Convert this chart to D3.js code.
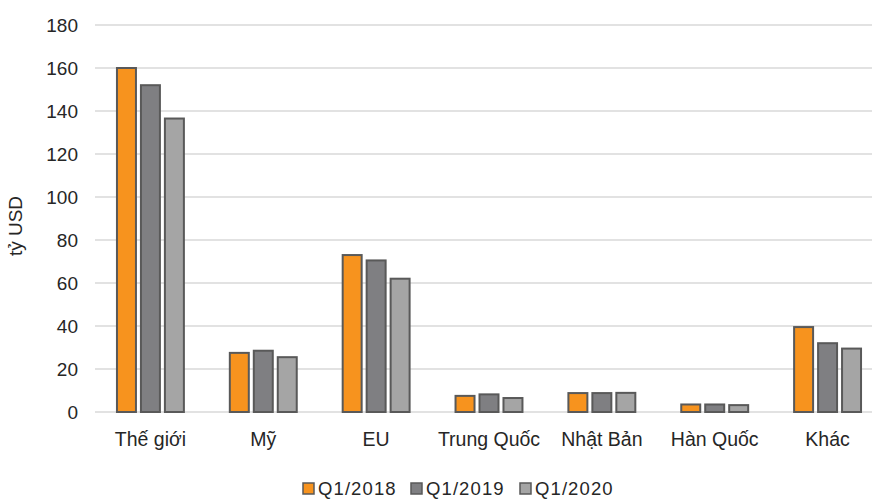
<!DOCTYPE html>
<html>
<head>
<meta charset="utf-8">
<script src="https://cdn.jsdelivr.net/npm/d3@7"></script>
<style>
  html, body { margin: 0; padding: 0; background: #fff; }
  svg { display: block; font-family: "Liberation Sans", Arial, sans-serif; }
</style>
</head>
<body>
<svg id="chart" width="872" height="499"></svg>
<script>
// Export value by market (billion USD), first quarter of each year
const categories = ["Thế giới", "Mỹ", "EU", "Trung Quốc", "Nhật Bản", "Hàn Quốc", "Khác"];
const seriesNames = ["Q1/2018", "Q1/2019", "Q1/2020"];
const q2018 = [160, 27.5, 73, 7.5, 8.8, 3.5, 39.5];
const q2019 = [152, 28.5, 70.5, 8.2, 8.8, 3.5, 32];
const q2020 = [136.5, 25.5, 62, 6.5, 8.9, 3.2, 29.5];
const yTicks = [0, 20, 40, 60, 80, 100, 120, 140, 160, 180];
const colors = ["#F7931E", "#7F7F82", "#A5A5A5"];

const seriesValues = [q2018, q2019, q2020];
const svg = d3.select("#chart");

const plot = { left: 94, right: 884, top: 25, bottom: 412 };

const x = d3.scaleBand()
  .domain(categories)
  .range([plot.left, plot.right])
  .paddingInner(0)
  .paddingOuter(0);

const xInner = d3.scaleBand()
  .domain(seriesNames)
  .range([0, x.bandwidth()])
  .paddingInner(0.208)
  .paddingOuter(0.958);

const y = d3.scaleLinear().domain([0, 180]).range([plot.bottom, plot.top]);

// Horizontal gridlines
svg.append("g")
  .selectAll("line")
  .data(yTicks)
  .join("line")
  .attr("x1", plot.left + 1)
  .attr("x2", 872)
  .attr("y1", d => y(d))
  .attr("y2", d => y(d))
  .attr("stroke", "#D9D9D9")
  .attr("stroke-width", 1.5);

// Y axis labels
const yAxis = svg.append("g")
  .attr("transform", `translate(78,0)`)
  .call(d3.axisLeft(y).tickValues(yTicks).tickSize(0).tickPadding(0));
yAxis.select(".domain").remove();
yAxis.selectAll("text")
  .attr("font-size", 19)
  .attr("fill", "#262626")
  .attr("font-family", "Liberation Sans, Arial, sans-serif");

// Y axis title
svg.append("text")
  .attr("transform", `translate(22,226) rotate(-90)`)
  .attr("text-anchor", "middle")
  .attr("font-size", 19)
  .attr("fill", "#262626")
  .text("tỷ USD");

// Bars
const groups = svg.append("g")
  .selectAll("g")
  .data(categories)
  .join("g")
  .attr("transform", d => `translate(${x(d)},0)`);

groups.selectAll("rect")
  .data((c, i) => seriesNames.map((s, j) => ({ series: s, value: seriesValues[j][i], idx: j })))
  .join("rect")
  .attr("x", d => xInner(d.series))
  .attr("width", xInner.bandwidth())
  .attr("y", d => y(d.value))
  .attr("height", d => y(0) - y(d.value))
  .attr("fill", d => colors[d.idx])
  .attr("stroke", "#595959")
  .attr("stroke-width", 2);

// Category labels
const xAxis = svg.append("g")
  .attr("transform", `translate(0,${plot.bottom})`)
  .call(d3.axisBottom(x).tickSize(0).tickPadding(20));
xAxis.select(".domain").remove();
xAxis.selectAll("text")
  .attr("font-size", 19.5)
  .attr("fill", "#262626")
  .attr("font-family", "Liberation Sans, Arial, sans-serif");

// Legend
const legendX = [303, 411, 520];
const legend = svg.append("g")
  .selectAll("g")
  .data(seriesNames)
  .join("g")
  .attr("transform", (d, i) => `translate(${legendX[i]},483)`);
legend.append("rect")
  .attr("width", 11)
  .attr("height", 11)
  .attr("fill", (d, i) => colors[i])
  .attr("stroke", "#595959")
  .attr("stroke-width", 1.5);
legend.append("text")
  .attr("x", 15)
  .attr("y", 11.5)
  .attr("font-size", 18.5)
  .attr("letter-spacing", 1.1)
  .attr("fill", "#262626")
  .text(d => d);
</script>
</body>
</html>
